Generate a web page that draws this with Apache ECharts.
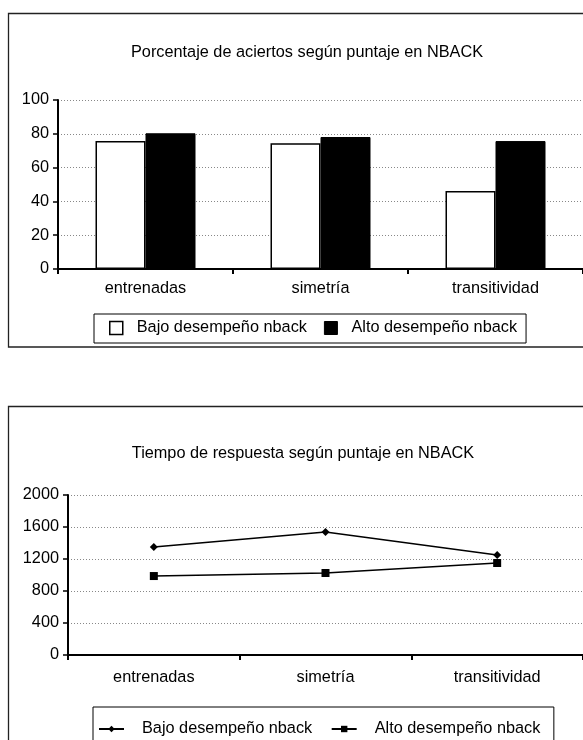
<!DOCTYPE html>
<html>
<head>
<meta charset="utf-8">
<script src="https://cdn.jsdelivr.net/npm/echarts@6/dist/echarts.min.js"></script>
<style>
html,body{margin:0;padding:0;background:#fff;}
#c{width:583px;height:740px;}
</style>
</head>
<body>
<div id="c"></div>
<script>
// ---- data ----
var categories = ['entrenadas', 'simetría', 'transitividad'];
var seriesNames = ['Bajo desempeño nback', 'Alto desempeño nback'];
var title1 = 'Porcentaje de aciertos según puntaje en NBACK';
var title2 = 'Tiempo de respuesta según puntaje en NBACK';
var aciertosBajo = [75.7, 74.4, 46.2];
var aciertosAlto = [80.3, 78.1, 75.7];
var tiempoBajo = [1350, 1537, 1250];
var tiempoAlto = [987, 1025, 1150];
var yTicks1 = [0, 20, 40, 60, 80, 100];
var yTicks2 = [0, 400, 800, 1200, 1600, 2000];

var FONT = '"Liberation Sans", Arial, sans-serif';
var FS = 16.3;
var chart = echarts.init(document.getElementById('c'), null, {renderer: 'canvas'});

function yAxis(gridIndex, ticks) {
  return {
    type: 'value', gridIndex: gridIndex,
    min: ticks[0], max: ticks[ticks.length - 1], interval: ticks[1] - ticks[0],
    axisLine: {show: true, lineStyle: {color: '#000', width: 2}},
    axisTick: {show: true, length: 5, lineStyle: {color: '#000', width: 1.5}},
    axisLabel: {color: '#000', fontSize: FS, fontFamily: FONT, margin: 9,
                formatter: function (v) { return String(v); }},
    splitLine: {show: true, lineStyle: {color: '#888', width: 1, type: [1, 2]}}
  };
}
function xAxis(gridIndex, margin) {
  return {
    type: 'category', gridIndex: gridIndex, data: categories,
    axisLine: {show: true, lineStyle: {color: '#000', width: 2}},
    axisTick: {show: true, alignWithLabel: false, length: 5, lineStyle: {color: '#000', width: 2}},
    axisLabel: {color: '#000', fontSize: FS, fontFamily: FONT, margin: margin},
    splitLine: {show: false}
  };
}

var option = {
  animation: false,
  backgroundColor: '#fff',
  textStyle: {fontFamily: FONT},
  title: [
    {text: title1, left: 302, top: 40, textAlign: 'center',
     textStyle: {fontSize: FS, fontWeight: 'normal', color: '#000', fontFamily: FONT}},
    {text: title2, left: 298, top: 441, textAlign: 'center',
     textStyle: {fontSize: FS, fontWeight: 'normal', color: '#000', fontFamily: FONT}}
  ],
  graphic: [
    {type: 'rect', shape: {x: 8.5, y: 13.5, width: 620, height: 333.5},
     style: {fill: 'none', stroke: '#222', lineWidth: 1.3}, silent: true, z: -1},
    {type: 'rect', shape: {x: 8.5, y: 406.5, width: 620, height: 400},
     style: {fill: 'none', stroke: '#222', lineWidth: 1.3}, silent: true, z: -1}
  ],
  grid: [
    {left: 58, right: -3, top: 100, height: 169, containLabel: false},
    {left: 68, right: -3, top: 495, height: 160, containLabel: false}
  ],
  legend: [
    {
      data: [
        {name: seriesNames[0], icon: 'rect', itemStyle: {color: '#fff', borderColor: '#000', borderWidth: 1.5}},
        {name: seriesNames[1], icon: 'rect', itemStyle: {color: '#000', borderColor: '#000', borderWidth: 1}}
      ],
      left: 94, top: 314, orient: 'horizontal',
      itemWidth: 13, itemHeight: 13, itemGap: 17,
      padding: [6, 9, 7, 15],
      borderColor: '#000', borderWidth: 1,
      textStyle: {fontSize: FS, color: '#000', fontFamily: FONT, lineHeight: 16, padding: [0, 0, 0, 9]},
      selectedMode: false
    },
    {
      data: [seriesNames[0] + ' ', seriesNames[1] + ' '],
      left: 93, top: 707, orient: 'horizontal',
      itemWidth: 25, itemHeight: 8, itemGap: 14,
      padding: [14, 9, 20, 5],
      borderColor: '#000', borderWidth: 1,
      textStyle: {fontSize: FS, color: '#000', fontFamily: FONT, lineHeight: 16, padding: [0, 0, 0, 13]},
      selectedMode: false
    }
  ],
  xAxis: [xAxis(0, 12), xAxis(1, 15)],
  yAxis: [yAxis(0, yTicks1), yAxis(1, yTicks2)],
  series: [
    {name: seriesNames[0], type: 'bar', xAxisIndex: 0, yAxisIndex: 0, data: aciertosBajo,
     barWidth: 50, barGap: '0%',
     itemStyle: {color: '#fff', borderColor: '#000', borderWidth: 1.5}},
    {name: seriesNames[1], type: 'bar', xAxisIndex: 0, yAxisIndex: 0, data: aciertosAlto,
     barWidth: 50, barGap: '0%',
     itemStyle: {color: '#000', borderColor: '#000', borderWidth: 1}},
    {name: seriesNames[0] + ' ', type: 'line', xAxisIndex: 1, yAxisIndex: 1, data: tiempoBajo,
     symbol: 'diamond', symbolSize: 8, showAllSymbol: true,
     lineStyle: {color: '#000', width: 1.5}, itemStyle: {color: '#000'}},
    {name: seriesNames[1] + ' ', type: 'line', xAxisIndex: 1, yAxisIndex: 1, data: tiempoAlto,
     symbol: 'rect', symbolSize: 8, showAllSymbol: true,
     lineStyle: {color: '#000', width: 1.5}, itemStyle: {color: '#000'}}
  ]
};
chart.setOption(option);
</script>
</body>
</html>
